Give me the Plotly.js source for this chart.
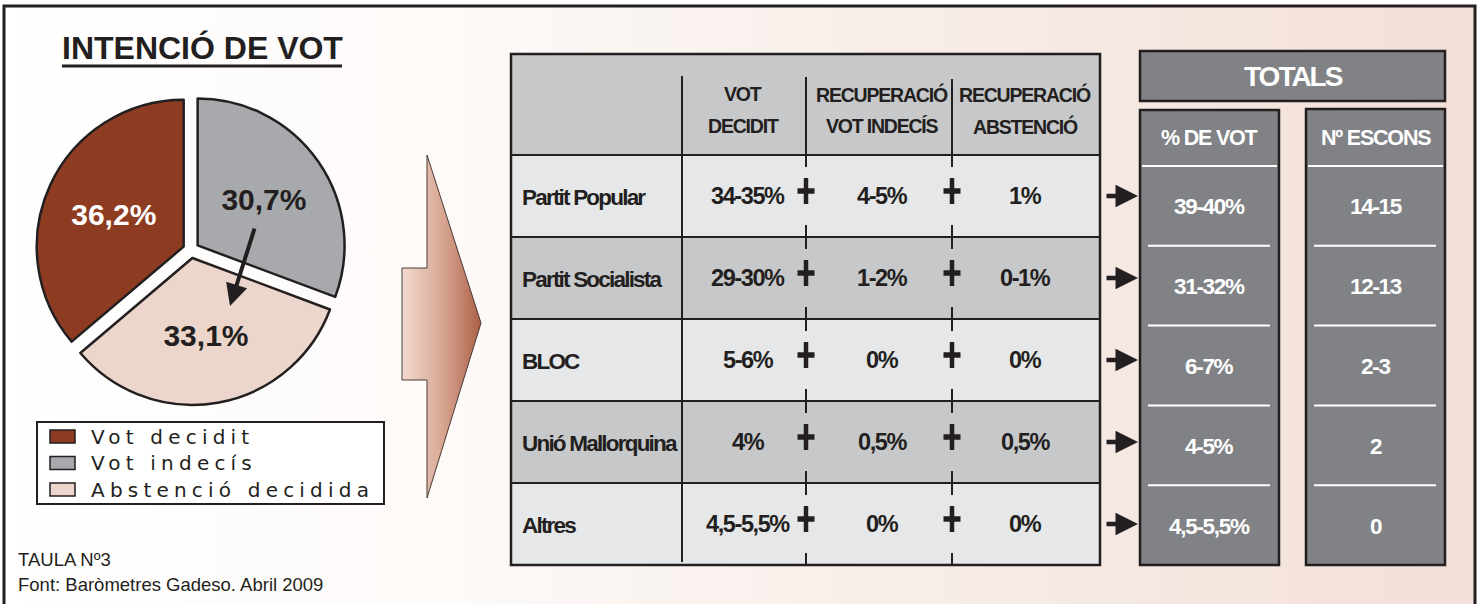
<!DOCTYPE html>
<html><head><meta charset="utf-8">
<script src="https://cdn.plot.ly/plotly-3.0.1.min.js"></script>
<style>html,body{margin:0;padding:0;background:#fff;}#chart{width:1479px;height:604px;}</style>
</head><body><div id="chart"></div>
<script>
// ---------- DATA ----------
const pieLabels = ['Vot decidit', 'Vot indecís', 'Abstenció decidida'];
const pieValues = [36.2, 30.7, 33.1];
const pieColors = ['#8e3c21', '#a7a9ac', '#ecd6cb'];
const pieTextColors = ['#ffffff', '#231f20', '#231f20'];

const parties = ['Partit Popular', 'Partit Socialista', 'BLOC', 'Unió Mallorquina', 'Altres'];
const votDecidit = ['34-35%', '29-30%', '5-6%', '4%', '4,5-5,5%'];
const recIndecis = ['4-5%', '1-2%', '0%', '0,5%', '0%'];
const recAbstencio = ['1%', '0-1%', '0%', '0,5%', '0%'];
const totalVot = ['39-40%', '31-32%', '6-7%', '4-5%', '4,5-5,5%'];
const escons = ['14-15', '12-13', '2-3', '2', '0'];
const colHeaders = [['VOT', 'DECIDIT'], ['RECUPERACIÓ', 'VOT INDECÍS'], ['RECUPERACIÓ', 'ABSTENCIÓ']];
const totalsTitle = 'TOTALS';
const totalsHeaders = ['% DE VOT', 'Nº ESCONS'];
const chartTitle = 'INTENCIÓ DE VOT';
const footer = ['TAULA Nº3', 'Font: Baròmetres Gadeso. Abril 2009'];

// ---------- STYLE / LAYOUT ----------
const W = 1479, H = 604;
const DARK = '#231f20';
const SANS = "'Liberation Sans',Arial,Helvetica,sans-serif";
const LIGHT = '#e6e7e8', MID = '#c7c8ca', TOT = '#808285';

const shapes = [], ann = [], traces = [];
function rect(x0, y0, x1, y1, fill, lc, lw) {
  shapes.push({type: 'rect', xref: 'x', yref: 'y', x0, y0, x1, y1, fillcolor: fill || 'rgba(0,0,0,0)',
    line: {color: lc || 'rgba(0,0,0,0)', width: lw || 0}, layer: 'above'});
}
function seg(x0, y0, x1, y1, c, w) {
  shapes.push({type: 'line', xref: 'x', yref: 'y', x0, y0, x1, y1, line: {color: c, width: w}, layer: 'above'});
}
function txt(x, y, text, font, opts) {
  ann.push(Object.assign({x, y, xref: 'x', yref: 'y', text, showarrow: false,
    font: Object.assign({color: DARK, family: SANS}, font), xanchor: 'center', yanchor: 'middle'}, opts || {}));
}
function sp(text, ls) { return '<span style="letter-spacing:' + ls + 'px">' + text + '</span>'; }
function arrow(x0, y0, x1, y1, w, s) {
  ann.push({x: x1, y: y1, ax: x0, ay: y0, xref: 'x', yref: 'y', axref: 'x', ayref: 'y', text: '',
    showarrow: true, arrowhead: 2, arrowwidth: w, arrowsize: s, arrowcolor: DARK, standoff: 0, startstandoff: 0});
}
function plus(x, y) {
  seg(x - 8.5, y, x + 8.5, y, DARK, 5.5);
  seg(x, y - 13, x, y + 13, DARK, 4.5);
}
const B = {weight: 700};

// background panel with gradient
traces.push({type: 'scatter', x: [4, 1475, 1475, 4, 4], y: [6, 6, 604, 604, 6], mode: 'lines',
  line: {width: 0, color: 'rgba(0,0,0,0)'}, fill: 'toself',
  fillgradient: {type: 'horizontal', colorscale: [[0, '#ffffff'], [0.3, '#fdfaf8'], [0.65, '#f7ece6'], [1, '#f2e0d8']]},
  hoverinfo: 'skip', showlegend: false});
rect(4, 6, 1475, 640, null, DARK, 3);

// big connecting arrow
traces.push({type: 'scatter', x: [402, 427, 427, 481, 427, 427, 402, 402], y: [268, 268, 155, 323, 498, 380, 380, 268],
  mode: 'lines', line: {width: 1, color: '#4a3a35'}, fill: 'toself',
  fillgradient: {type: 'horizontal', colorscale: [[0, '#f0dace'], [0.5, '#d9a894'], [1, '#ad5f47']]},
  hoverinfo: 'skip', showlegend: false});

// pie
const total = pieValues.reduce((a, b) => a + b, 0);
traces.push({type: 'pie', labels: pieLabels, values: pieValues, sort: false, direction: 'clockwise',
  rotation: 360 - 360 * pieValues[0] / total,
  marker: {colors: pieColors, line: {color: DARK, width: 2.5}},
  pull: 0.055, textinfo: 'value', texttemplate: '%{value:.1f}%', textposition: 'inside',
  insidetextorientation: 'horizontal',
  textfont: {family: SANS, size: 30, weight: 700, color: pieTextColors},
  domain: {x: [36 / W, 346 / W], y: [1 - 405 / H, 1 - 95 / H]},
  hoverinfo: 'skip', showlegend: false});
arrow(255, 227, 230, 306, 4, 1.1);

// title
txt(202, 48, chartTitle, {size: 32, weight: 700});
seg(62, 66, 342, 66, DARK, 3);

// legend
rect(37, 422, 384, 504, '#ffffff', DARK, 2);
const legY = [436.5, 463, 489.5];
pieLabels.forEach((l, i) => {
  rect(50, legY[i] - 6.5, 75, legY[i] + 6.5, pieColors[i], DARK, 1.5);
  txt(89, legY[i], sp(l, 5.2), {size: 20, family: "'DejaVu Sans',sans-serif"}, {xanchor: 'left'});
});

// footer
txt(16, 559, footer[0], {size: 18.5}, {xanchor: 'left'});
txt(16, 584, footer[1], {size: 18.5}, {xanchor: 'left'});

// main table
const TX0 = 511, TX1 = 1100, TY0 = 54, HB = 155, RH = 82;
const colX = [682, 806, 952];
const valX = [748, 882, 1025];
rect(TX0, TY0, TX1, HB, MID);
parties.forEach((p, i) => {
  const y0 = HB + i * RH;
  rect(TX0, y0, TX1, y0 + RH, i % 2 ? MID : LIGHT);
});
const TY1 = HB + parties.length * RH;
for (let i = 0; i < parties.length; i++) seg(TX0, HB + i * RH, TX1, HB + i * RH, DARK, 2);
rect(TX0, TY0, TX1, TY1, null, DARK, 2.5);
seg(colX[0], 76, colX[0], TY1 - 3, DARK, 2);
[colX[1], colX[2]].forEach((x, k) => {
  seg(x, 77 + 2 * k, x, HB + 12, DARK, 2);
  for (let i = 1; i < parties.length; i++) seg(x, HB + i * RH - 12, x, HB + i * RH + 12, DARK, 2);
  seg(x, TY1 - 12, x, TY1, DARK, 2);
});
colHeaders.forEach((h, j) => {
  const x = valX[j] - (j === 0 ? 5 : 0);
  txt(x, 94, sp(h[0], -1.2), Object.assign({size: 19.5}, B));
  txt(x, 126, sp(h[1], -1.2), Object.assign({size: 19.5}, B));
});
const cols = [votDecidit, recIndecis, recAbstencio];
parties.forEach((p, i) => {
  const cy = HB + i * RH + RH / 2;
  txt(520, cy + 1, sp(p, -1.8), Object.assign({size: 22.5}, B), {xanchor: 'left'});
  cols.forEach((c, j) => txt(valX[j], cy, sp(c[i], -1.4), Object.assign({size: 23.5}, B)));
  plus(colX[1], cy - 5);
  plus(colX[2], cy - 5);
  arrow(1105, cy, 1138, cy, 4.5, 1);
});

// totals
rect(1140, 51, 1445, 101, TOT, DARK, 2.5);
txt(1293, 76, sp(totalsTitle, -2), {size: 28, weight: 700, color: '#ffffff'});
const boxes = [[1140, 1279, 110, totalVot], [1306, 1445, 109, escons]];
boxes.forEach((b, k) => {
  const [x0, x1, y0, vals] = b;
  rect(x0, y0, x1, TY1, TOT, DARK, 2.5);
  txt((x0 + x1) / 2, 138, sp(totalsHeaders[k], -1.2), {size: 21.5, weight: 700, color: '#ffffff'});
  seg(x0 + 2, 166, x1 - 2, 166, '#ffffff', 2);
  const step = (TY1 - 166) / vals.length;
  vals.forEach((v, i) => {
    if (i > 0) seg(x0 + 8, 166 + i * step, x1 - 9, 166 + i * step, '#ffffff', 2);
    txt((x0 + x1) / 2, 166 + i * step + step / 2 + 1, sp(v, -1.3), {size: 22.5, weight: 700, color: '#ffffff'});
  });
});

const layout = {
  width: W, height: H, margin: {l: 0, r: 0, t: 0, b: 0}, paper_bgcolor: '#ffffff', plot_bgcolor: 'rgba(0,0,0,0)',
  separators: ',.', showlegend: false, hovermode: false,
  xaxis: {range: [0, W], visible: false, fixedrange: true},
  yaxis: {range: [H, 0], visible: false, fixedrange: true},
  shapes, annotations: ann
};
Plotly.newPlot('chart', traces, layout, {staticPlot: true, displayModeBar: false});
</script></body></html>
